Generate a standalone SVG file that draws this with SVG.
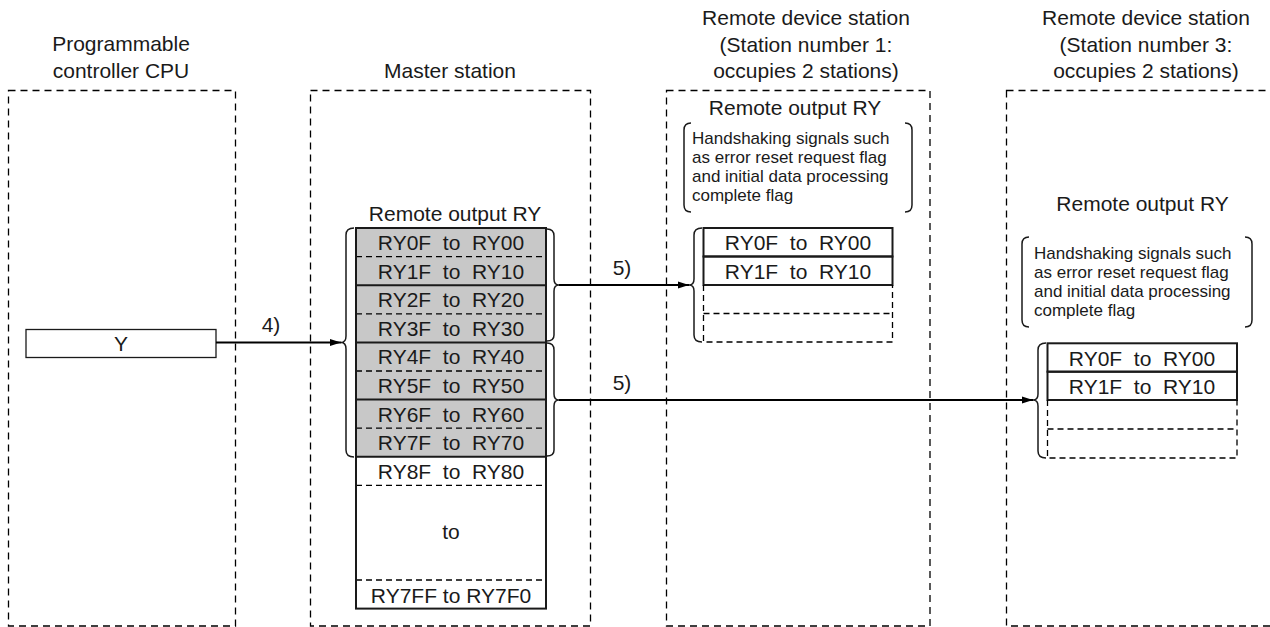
<svg xmlns="http://www.w3.org/2000/svg" width="1270" height="627" viewBox="0 0 1270 627" xml:space="preserve">
<defs>
<style>
text{font-family:"Liberation Sans",Arial,sans-serif;fill:#1a1a1a;white-space:pre}
.t21{font-size:21px}
.t17{font-size:17px}
.c{text-anchor:middle}
.frame{fill:none;stroke:#000;stroke-width:1.3;stroke-dasharray:7,5}
.solid{fill:none;stroke:#1a1a1a;stroke-width:2}
.thin{fill:none;stroke:#1a1a1a;stroke-width:1.3}
.dash{fill:none;stroke:#000;stroke-width:1.3;stroke-dasharray:6,4}
.brace{fill:none;stroke:#1a1a1a;stroke-width:1.5}
.conn{fill:none;stroke:#000;stroke-width:2}
</style>
<marker id="ah" markerUnits="userSpaceOnUse" markerWidth="12" markerHeight="8" refX="11" refY="4" orient="auto">
<path d="M0,0.5 L11,4 L0,7.5 z" fill="#000"/>
</marker>
</defs>
<rect width="1270" height="627" fill="#fff"/>
<g id="cpu">
<rect class="frame" x="8.5" y="90.5" width="227" height="535.5"/>
<text class="t21 c" x="121" y="51">Programmable</text>
<text class="t21 c" x="121" y="78">controller CPU</text>
<rect class="thin" x="26" y="329.5" width="190" height="28"/>
<text class="t21 c" x="121" y="351">Y</text>
</g>
<g id="master">
<rect class="frame" x="310.5" y="90.5" width="280" height="535.5"/>
<text class="t21 c" x="450" y="78">Master station</text>
<text class="t21 c" x="455" y="220.5">Remote output RY</text>
<rect x="356" y="228" width="190" height="228.8" fill="#c8c8c8"/>
<line class="dash" x1="356" y1="256.6" x2="546" y2="256.6"/>
<line class="dash" x1="356" y1="313.8" x2="546" y2="313.8"/>
<line class="dash" x1="356" y1="371" x2="546" y2="371"/>
<line class="dash" x1="356" y1="428.2" x2="546" y2="428.2"/>
<line class="dash" x1="356" y1="485.4" x2="546" y2="485.4"/>
<line class="dash" x1="356" y1="580" x2="546" y2="580"/>
<line class="solid" x1="356" y1="285.2" x2="546" y2="285.2"/>
<line class="solid" x1="356" y1="342.4" x2="546" y2="342.4"/>
<line class="solid" x1="356" y1="399.6" x2="546" y2="399.6"/>
<line class="solid" x1="356" y1="456.8" x2="546" y2="456.8"/>
<rect class="solid" x="356" y="228" width="190" height="380.6"/>
<text class="t21 c" x="451" y="250">RY0F  to  RY00</text>
<text class="t21 c" x="451" y="278.6">RY1F  to  RY10</text>
<text class="t21 c" x="451" y="307.2">RY2F  to  RY20</text>
<text class="t21 c" x="451" y="335.8">RY3F  to  RY30</text>
<text class="t21 c" x="451" y="364.4">RY4F  to  RY40</text>
<text class="t21 c" x="451" y="393">RY5F  to  RY50</text>
<text class="t21 c" x="451" y="421.6">RY6F  to  RY60</text>
<text class="t21 c" x="451" y="450.2">RY7F  to  RY70</text>
<text class="t21 c" x="451" y="478.8">RY8F  to  RY80</text>
<text class="t21 c" x="451" y="538.5">to</text>
<text class="t21 c" x="451" y="602.5">RY7FF to RY7F0</text>
<path class="brace" d="M354,228 Q346,228 346,235 L346,336 Q346,342.5 341,342.5 Q346,342.5 346,349 L346,450 Q346,457 354,457"/>
<path class="brace" d="M547,229 Q554,229 554,236 L554,279 Q554,285 559,285 Q554,285 554,291 L554,335 Q554,341 547,341"/>
<path class="brace" d="M547,343 Q554,343 554,350 L554,394 Q554,400 559,400 Q554,400 554,406 L554,450 Q554,456 547,456"/>
</g>
<g id="remote1">
<rect class="frame" x="666.5" y="90.5" width="263.5" height="535.5"/>
<text class="t21 c" x="806" y="25">Remote device station</text>
<text class="t21 c" x="806" y="51.5">(Station number 1:</text>
<text class="t21 c" x="806" y="78">occupies 2 stations)</text>
<text class="t21 c" x="795" y="114.5">Remote output RY</text>
<path class="brace" d="M691,123 Q684,123 684,130 L684,205 Q684,212 691,212"/>
<path class="brace" d="M905,123 Q912,123 912,130 L912,205 Q912,212 905,212"/>
<text class="t17" x="692" y="143.5">Handshaking signals such</text>
<text class="t17" x="692" y="162.5">as error reset request flag</text>
<text class="t17" x="692" y="181.5">and initial data processing</text>
<text class="t17" x="692" y="200.5">complete flag</text>
<rect class="solid" x="703.5" y="228" width="189" height="28.5"/>
<rect class="solid" x="703.5" y="256.5" width="189" height="28.5"/>
<path class="dash" d="M703.5,285 L703.5,342 L892.5,342 L892.5,285 M703.5,313.5 L892.5,313.5"/>
<text class="t21 c" x="798" y="250">RY0F  to  RY00</text>
<text class="t21 c" x="798" y="278.5">RY1F  to  RY10</text>
<path class="brace" d="M702,228 Q694,228 694,235 L694,279 Q694,285 689,285 Q694,285 694,291 L694,335 Q694,342 702,342"/>
</g>
<g id="remote3">
<rect class="frame" x="1006.5" y="90.5" width="290" height="535.5"/>
<text class="t21 c" x="1146" y="25">Remote device station</text>
<text class="t21 c" x="1146" y="51.5">(Station number 3:</text>
<text class="t21 c" x="1146" y="78">occupies 2 stations)</text>
<text class="t21 c" x="1142.5" y="210.5">Remote output RY</text>
<path class="brace" d="M1029,237 Q1022,237 1022,244 L1022,320 Q1022,327 1029,327"/>
<path class="brace" d="M1245,237 Q1252,237 1252,244 L1252,320 Q1252,327 1245,327"/>
<text class="t17" x="1034" y="258.5">Handshaking signals such</text>
<text class="t17" x="1034" y="277.5">as error reset request flag</text>
<text class="t17" x="1034" y="296.5">and initial data processing</text>
<text class="t17" x="1034" y="315.5">complete flag</text>
<rect class="solid" x="1047.5" y="343.3" width="189.5" height="28.4"/>
<rect class="solid" x="1047.5" y="371.7" width="189.5" height="28.3"/>
<path class="dash" d="M1047.5,400 L1047.5,458 L1237,458 L1237,400 M1047.5,429 L1237,429"/>
<text class="t21 c" x="1142" y="365.5">RY0F  to  RY00</text>
<text class="t21 c" x="1142" y="394">RY1F  to  RY10</text>
<path class="brace" d="M1046,343 Q1038,343 1038,350 L1038,394 Q1038,400 1033,400 Q1038,400 1038,406 L1038,451 Q1038,458 1046,458"/>
</g>
<g id="connectors">
<line class="conn" x1="216" y1="342.5" x2="341" y2="342.5" marker-end="url(#ah)"/>
<line class="conn" x1="559" y1="285" x2="689" y2="285" marker-end="url(#ah)"/>
<line class="conn" x1="559" y1="400" x2="1033" y2="400" marker-end="url(#ah)"/>
<text class="t21 c" x="271" y="332">4)</text>
<text class="t21 c" x="622" y="275">5)</text>
<text class="t21 c" x="622" y="390">5)</text>
</g>
</svg>
